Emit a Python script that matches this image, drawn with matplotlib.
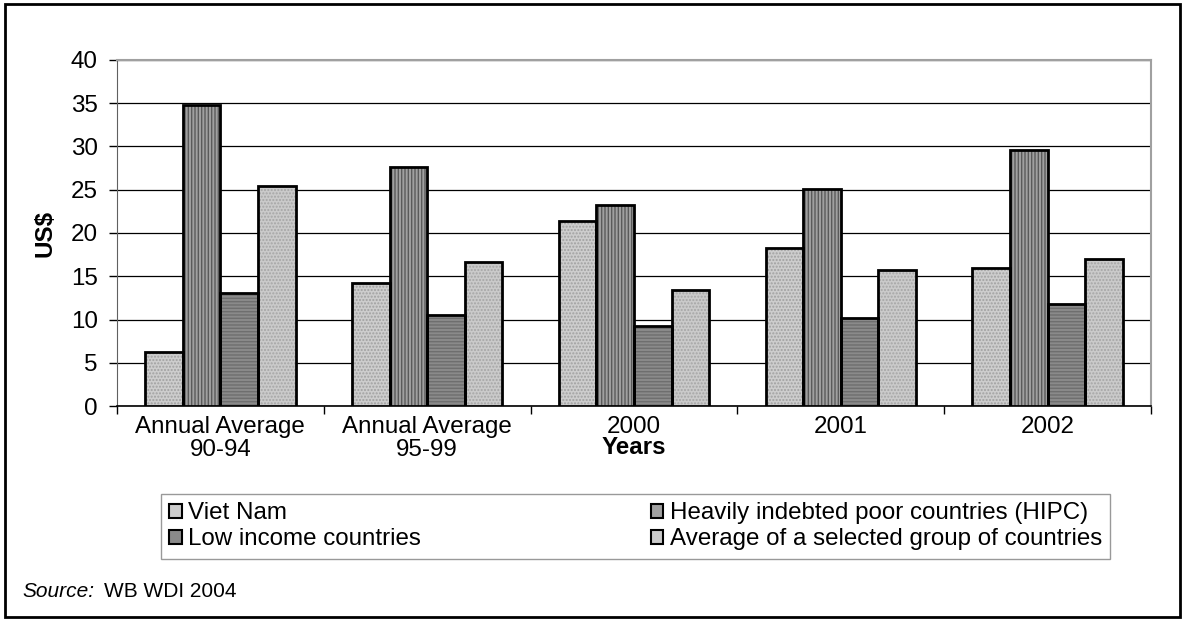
import numpy as np
import matplotlib.pyplot as plt
from matplotlib.patches import Patch, Rectangle

plt.rcParams['font.family'] = ['Liberation Sans', 'DejaVu Sans']

# --- Data (US$)
categories = ["Annual Average\n90-94", "Annual Average\n95-99", "2000", "2001", "2002"]
viet_nam = [6.2, 14.2, 21.4, 18.3, 15.9]
hipc = [34.8, 27.6, 23.2, 25.1, 29.6]
low_income = [13.1, 10.5, 9.3, 10.2, 11.8]
selected_avg = [25.4, 16.7, 13.4, 15.7, 17.0]

series = [
    ("Viet Nam", viet_nam, '#cdcdcd', '#a0a0a0', '.....'),
    ("Heavily indebted poor countries (HIPC)", hipc, '#a0a0a0', '#5a5a5a', '|||||'),
    ("Low income countries", low_income, '#8a8a8a', '#6e6e6e', '-----'),
    ("Average of a selected group of countries", selected_avg, '#cacaca', '#a5a5a5', '.....'),
]

FS = 17.4

fig = plt.figure(figsize=(11.85, 6.21), dpi=100)
ax = fig.add_axes([0.0987, 0.3462, 0.8726, 0.5572])

x = np.arange(len(categories))
width = 0.182
offsets = (np.arange(4) - 1.5) * width

for (name, vals, face, hatch_col, hatch), off in zip(series, offsets):
    # hatched fill, then a plain black outline on top
    ax.bar(x + off, vals, width, color=face, edgecolor=hatch_col, hatch=hatch,
           linewidth=0, zorder=3)
    ax.bar(x + off, vals, width, fill=False, edgecolor='black', linewidth=2, zorder=4)

ax.set_xlim(-0.5, len(categories) - 0.5)
ax.set_ylim(0, 40)
ax.set_yticks(range(0, 41, 5))
ax.yaxis.grid(True, color='black', linewidth=0.9)
ax.set_axisbelow(True)

ax.set_xticks(x)
ax.set_xticklabels(categories, linespacing=1.1)
ax.set_xticks(np.arange(len(categories) + 1) - 0.5, minor=True)
ax.tick_params(axis='x', which='major', length=0, pad=7, labelsize=FS)
ax.tick_params(axis='x', which='minor', length=6, width=1, direction='out')
ax.tick_params(axis='y', length=6, width=1, direction='out', labelsize=FS, pad=8)

for s in ['top', 'right']:
    ax.spines[s].set_color('#a0a0a0')
    ax.spines[s].set_linewidth(1.5)
ax.spines['left'].set_color('#606060')
ax.spines['bottom'].set_color('black')
ax.spines['bottom'].set_linewidth(1.2)

ax.set_ylabel("US$", fontsize=FS, fontweight='bold', va='center')
ax.yaxis.set_label_coords(-0.0696, 0.5)
ax.set_xlabel("Years", fontsize=FS, fontweight='bold', va='center')
ax.xaxis.set_label_coords(0.5, -0.1185)

# legend: column-wise fill, so order VN, Low, HIPC, Avg
handles = [Patch(facecolor=s[2], edgecolor='black', linewidth=1.5, label=s[0])
           for s in series]
order = [0, 2, 1, 3]
leg = fig.legend([handles[i] for i in order], [series[i][0] for i in order],
                 ncol=2, mode='expand', loc='upper left',
                 bbox_to_anchor=(0.1359, 0.0, 0.801, 0.2045),
                 fontsize=FS, frameon=True, fancybox=False, edgecolor='#808080',
                 handlelength=0.5, handleheight=0.5, handletextpad=0.25,
                 borderaxespad=0, borderpad=0.35, labelspacing=0.16)
leg.get_frame().set_linewidth(1.0)

fig.text(0.0186, 0.047, "Source:", fontsize=15, style='italic', va='center')
fig.text(0.0878, 0.047, "WB WDI 2004", fontsize=15, va='center')

fig.patches.append(Rectangle((0.004, 0.006), 0.992, 0.988, transform=fig.transFigure,
                             fill=False, edgecolor='black', linewidth=2))

fig.savefig("out.png", dpi=100)
